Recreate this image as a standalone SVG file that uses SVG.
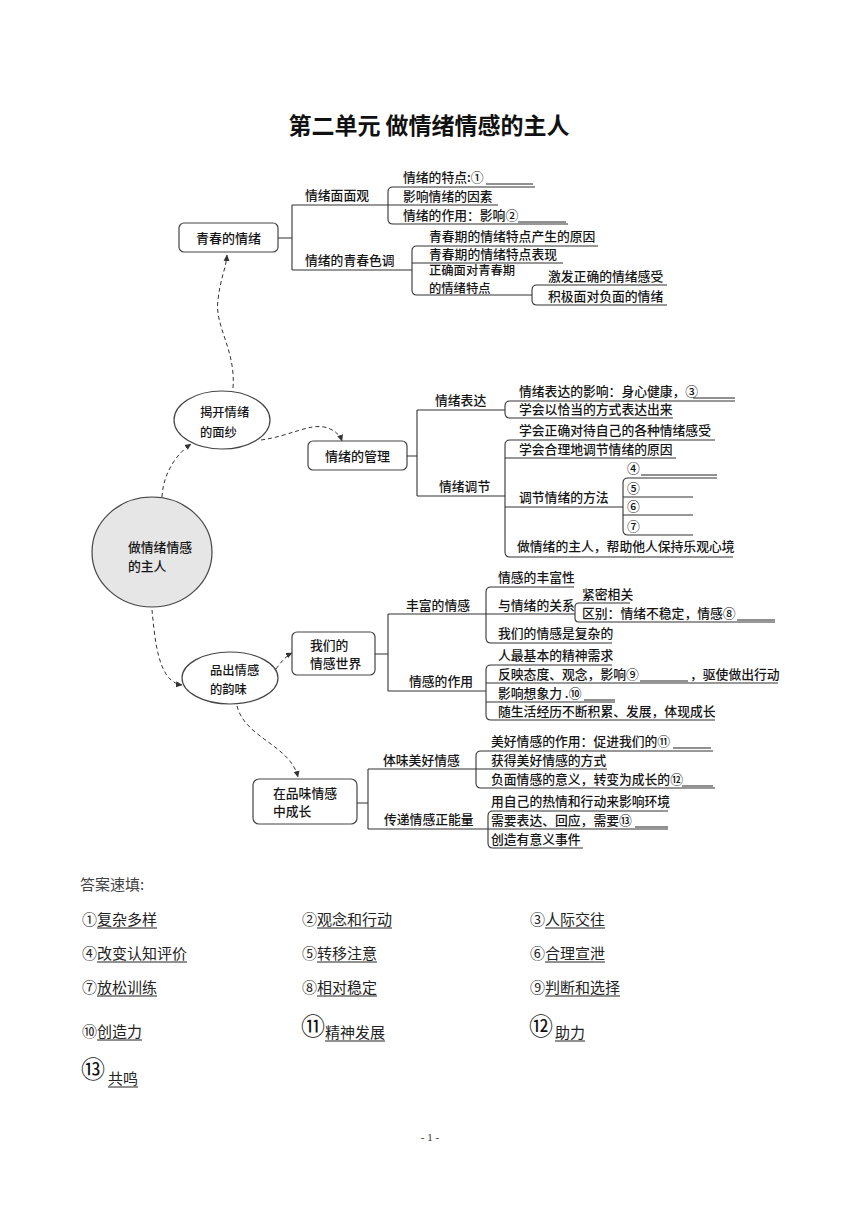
<svg xmlns="http://www.w3.org/2000/svg" width="860" height="1216" viewBox="0 0 860 1216">
<style>
.t{font-family:"Noto Sans CJK SC","Noto Sans",sans-serif;font-size:12.8px;font-weight:500;fill:#151515}
.title{font-family:"Noto Sans CJK SC","Noto Sans",sans-serif;font-size:23px;font-weight:bold;fill:#111}
.a{font-family:"Noto Sans CJK SC","Noto Sans",sans-serif;font-size:15px;fill:#222}
.big{font-family:"DejaVu Serif","Noto Sans CJK SC",serif;font-size:24px;fill:#111}
.ln{stroke:#333;stroke-width:1.1;fill:none}
.ul{stroke:#222;stroke-width:1;fill:none}
.box{fill:#fff;stroke:#444;stroke-width:1.2}
.dash{stroke:#333;stroke-width:1;fill:none;stroke-dasharray:4 3}
</style>
<defs>
<marker id="arr" markerWidth="7" markerHeight="7" refX="6" refY="3.5" orient="auto" markerUnits="userSpaceOnUse">
<path d="M0,0.5 L6.5,3.5 L0,6.5 Z" fill="#333"/>
</marker>
</defs>
<rect width="860" height="1216" fill="#fff"/>
<text class="title" x="429" y="134" text-anchor="middle">第二单元  做情绪情感的主人</text>

<g id="connectors">
<path class="dash" d="M233,388 C236,350 214,325 218,300 C220,280 226,268 227,255" marker-end="url(#arr)"/>
<path class="dash" d="M162,497 C163,475 175,455 191,444" marker-end="url(#arr)"/>
<path class="dash" d="M261,440 C290,436 308,424 324,427 C334,429 340,435 342,441" marker-end="url(#arr)"/>
<path class="dash" d="M152,610 C155,640 158,682 182,685" marker-end="url(#arr)"/>
<path class="dash" d="M276,669 C281,662 286,656 292,653" marker-end="url(#arr)"/>
<path class="dash" d="M237,706 C245,738 290,745 298,777" marker-end="url(#arr)"/>
</g>

<g id="root">
<ellipse cx="152" cy="552" rx="60" ry="55" fill="#e6e6e6" stroke="#444" stroke-width="1.2"/>
<text class="t" x="128" y="552">做情绪情感</text>
<text class="t" x="128" y="571">的主人</text>
</g>

<g id="n-jiekai">
<ellipse cx="222" cy="420" rx="48" ry="29" fill="#fff" stroke="#444" stroke-width="1.2"/>
<text class="t" x="200" y="417" style="font-size:12.3px">揭开情绪</text>
<text class="t" x="200" y="437" style="font-size:12.3px">的面纱</text>
</g>

<g id="n-qingchun">
<rect class="box" x="179" y="223" width="99" height="29" rx="5"/>
<text class="t" x="228.5" y="242.5" text-anchor="middle" style="font-size:13px">青春的情绪</text>
<path class="ln" d="M278,238 H292 M292,205 V270 M292,205 H498 M292,270 H412"/>
<text class="t" x="305" y="200">情绪面面观</text>
<text class="t" x="305" y="265">情绪的青春色调</text>
<path class="ln" d="M535,187 H393 Q388,187 388,192 V219 Q388,224 393,224 H568"/>
<path class="ul" d="M486,184 H533 M518,222 H566"/>
<text class="t" x="403" y="182">情绪的特点:①</text>
<text class="t" x="403" y="201">影响情绪的因素</text>
<text class="t" x="403" y="220">情绪的作用：影响②</text>
<path class="ln" d="M598,246 H417 Q412,246 412,251 V290 Q412,295 417,295 H532 M412,263 H563"/>
<text class="t" x="429" y="241">青春期的情绪特点产生的原因</text>
<text class="t" x="429" y="259">青春期的情绪特点表现</text>
<text class="t" x="429" y="275" style="font-size:12.3px">正确面对青春期</text>
<text class="t" x="429" y="293" style="font-size:12.3px">的情绪特点</text>
<path class="ln" d="M667,285 H537 Q532,285 532,290 V300 Q532,305 537,305 H667"/>
<text class="t" x="548" y="281">激发正确的情绪感受</text>
<text class="t" x="548" y="301">积极面对负面的情绪</text>
</g>

<g id="n-guanli">
<rect class="box" x="308" y="441" width="99" height="29" rx="5"/>
<text class="t" x="357.5" y="461" text-anchor="middle" style="font-size:13px">情绪的管理</text>
<path class="ln" d="M407,456 H417 M417,410 V496 M417,410 H505 M417,496 H505"/>
<text class="t" x="435" y="405">情绪表达</text>
<text class="t" x="439" y="491">情绪调节</text>
<path class="ln" d="M735,401 H510 Q505,401 505,406 V413 Q505,418 510,418 H673"/>
<path class="ul" d="M693,398 H735"/>
<text class="t" x="519" y="396">情绪表达的影响：身心健康，③</text>
<text class="t" x="519" y="414">学会以恰当的方式表达出来</text>
<path class="ln" d="M715,440 H510 Q505,440 505,445 V552 Q505,557 510,557 H733 M505,458 H676 M505,507 H623"/>
<text class="t" x="519" y="435">学会正确对待自己的各种情绪感受</text>
<text class="t" x="519" y="454">学会合理地调节情绪的原因</text>
<text class="t" x="519" y="502">调节情绪的方法</text>
<text class="t" x="517" y="551">做情绪的主人，帮助他人保持乐观心境</text>
<path class="ln" d="M717,478 H628 Q623,478 623,483 V530 Q623,535 628,535 H693 M623,497 H693 M623,515 H693"/>
<path class="ul" d="M641,475 H717"/>
<text class="t" x="627" y="473">④</text>
<text class="t" x="627" y="493">⑤</text>
<text class="t" x="627" y="511">⑥</text>
<text class="t" x="627" y="531">⑦</text>
</g>

<g id="n-pinchu">
<ellipse cx="230" cy="678" rx="48" ry="26" fill="#fff" stroke="#444" stroke-width="1.2"/>
<text class="t" x="210" y="675" style="font-size:12.3px">品出情感</text>
<text class="t" x="210" y="694" style="font-size:12.3px">的韵味</text>
</g>

<g id="n-shijie">
<rect class="box" x="292" y="632" width="83" height="43" rx="5"/>
<text class="t" x="310" y="650">我们的</text>
<text class="t" x="310" y="668">情感世界</text>
<path class="ln" d="M375,654 H388 M388,614 V691 M388,614 H486 M388,691 H486"/>
<text class="t" x="406" y="610">丰富的情感</text>
<text class="t" x="409" y="686">情感的作用</text>
<path class="ln" d="M574,587 H491 Q486,587 486,592 V638 Q486,643 491,643 H612 M486,614 H575"/>
<text class="t" x="498" y="582">情感的丰富性</text>
<text class="t" x="498" y="610">与情绪的关系</text>
<text class="t" x="498" y="638">我们的情感是复杂的</text>
<path class="ln" d="M630,603 H579 Q575,603 575,607 V618 Q575,622 579,622 H775"/>
<path class="ul" d="M737,620 H775"/>
<text class="t" x="582" y="599">紧密相关</text>
<text class="t" x="582" y="618">区别：情绪不稳定，情感⑧</text>
<path class="ln" d="M612,665 H491 Q486,665 486,670 V715 Q486,720 491,720 H715 M486,683 H778 M486,702 H615"/>
<path class="ul" d="M640,681 H688 M584,700 H615"/>
<text class="t" x="498" y="660">人最基本的精神需求</text>
<text class="t" x="498" y="679">反映态度、观念，影响⑨</text>
<text class="t" x="690" y="679">，驱使做出行动</text>
<text class="t" x="498" y="698">影响想象力 .⑩</text>
<text class="t" x="498" y="716">随生活经历不断积累、发展，体现成长</text>
</g>

<g id="n-chengzhang">
<rect class="box" x="253" y="779" width="104" height="45" rx="6"/>
<text class="t" x="273" y="798">在品味情感</text>
<text class="t" x="273" y="816">中成长</text>
<path class="ln" d="M357,803 H368 M368,769 V829 M368,769 H476 M368,829 H488"/>
<text class="t" x="383" y="765">体味美好情感</text>
<text class="t" x="384" y="824">传递情感正能量</text>
<path class="ln" d="M713,751 H481 Q476,751 476,756 V783 Q476,788 481,788 H715 M476,769 H607"/>
<path class="ul" d="M673,748 H711 M682,786 H713"/>
<text class="t" x="491" y="746">美好情感的作用：促进我们的⑪</text>
<text class="t" x="491" y="765">获得美好情感的方式</text>
<text class="t" x="491" y="784">负面情感的意义，转变为成长的⑫</text>
<path class="ln" d="M668,811 H493 Q488,811 488,816 V843 Q488,848 493,848 H583 M488,829 H668"/>
<path class="ul" d="M635,827 H668"/>
<text class="t" x="491" y="806">用自己的热情和行动来影响环境</text>
<text class="t" x="491" y="825">需要表达、回应，需要⑬</text>
<text class="t" x="491" y="844">创造有意义事件</text>
</g>

<g id="answers">
<text class="a" x="80" y="890" style="fill:#444">答案速填:</text>
<text class="a" x="82" y="925">①</text><text class="a" x="97" y="925">复杂多样</text>
<text class="a" x="302" y="925">②</text><text class="a" x="317" y="925">观念和行动</text>
<text class="a" x="530" y="925">③</text><text class="a" x="545" y="925">人际交往</text>
<text class="a" x="82" y="959">④</text><text class="a" x="97" y="959">改变认知评价</text>
<text class="a" x="302" y="959">⑤</text><text class="a" x="317" y="959">转移注意</text>
<text class="a" x="530" y="959">⑥</text><text class="a" x="545" y="959">合理宣泄</text>
<text class="a" x="82" y="993">⑦</text><text class="a" x="97" y="993">放松训练</text>
<text class="a" x="302" y="993">⑧</text><text class="a" x="317" y="993">相对稳定</text>
<text class="a" x="530" y="993">⑨</text><text class="a" x="545" y="993">判断和选择</text>
<text class="a" x="82" y="1037">⑩</text><text class="a" x="97" y="1037">创造力</text>
<text class="big" x="301" y="1035">⑪</text><text class="a" x="325" y="1038">精神发展</text>
<text class="big" x="529" y="1035">⑫</text><text class="a" x="555" y="1038">助力</text>
<text class="big" x="81" y="1078">⑬</text><text class="a" x="108" y="1084">共鸣</text>
<path class="ul" d="M97,928 H157 M317,928 H392 M545,928 H605 M97,962 H187 M317,962 H377 M545,962 H605 M97,996 H157 M317,996 H377 M545,996 H620 M97,1040 H142 M325,1041 H385 M555,1041 H585 M108,1087 H138"/>
</g>

<text x="430" y="1141" text-anchor="middle" style="font-family:'Liberation Serif',serif;font-size:11px;fill:#333">- 1 -</text>
</svg>
